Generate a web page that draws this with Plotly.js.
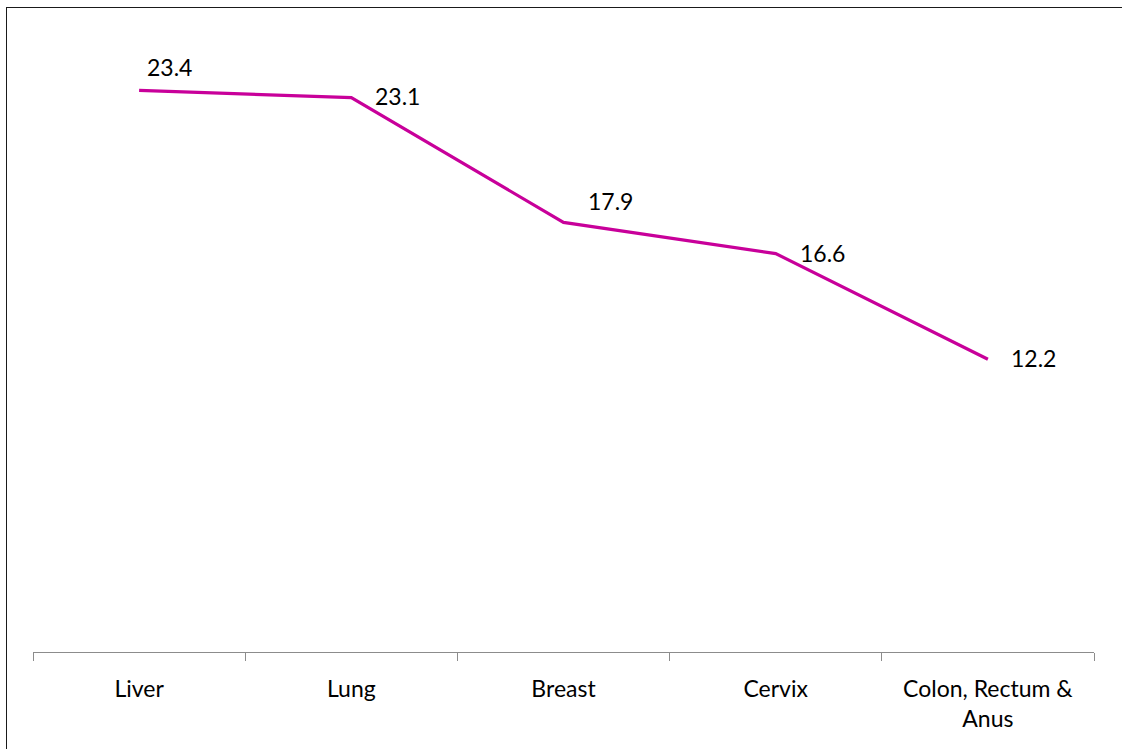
<!DOCTYPE html>
<html>
<head>
<meta charset="utf-8">
<script src="https://cdn.plot.ly/plotly-3.0.1.min.js"></script>
<style>
  html, body { margin: 0; padding: 0; background: #fff; overflow: hidden; }
  #chart { width: 1122px; height: 749px; }
  #frame { position: absolute; left: 6px; top: 7px; width: 1130px; height: 760px;
           border: 1.5px solid #1a1a1a; pointer-events: none; }
</style>
</head>
<body>
<div id="chart"></div>
<div id="frame"></div>
<script>
// Cancer sites and their values
const sites = ["Liver", "Lung", "Breast", "Cervix", "Colon, Rectum &<br>Anus"];
const values = [23.4, 23.1, 17.9, 16.6, 12.2];
const valueLabels = values.map(v => v.toFixed(1));

// Pixel offsets of each value label from its point
const labelDx = [7, 23, 23, 23, 22];
const labelDy = [23, 2, 21, 1, 1];

const FONT = "Lato, 'Open Sans', sans-serif";

const trace = {
  type: "scatter",
  mode: "lines",
  x: sites,
  y: values,
  line: { color: "#C8009A", width: 3.2 },
  hoverinfo: "skip",
  cliponaxis: false
};

const annotations = sites.map((s, i) => ({
  x: s,
  y: values[i],
  xref: "x",
  yref: "y",
  text: valueLabels[i],
  showarrow: false,
  xanchor: "left",
  yanchor: "middle",
  xshift: labelDx[i],
  yshift: labelDy[i],
  borderpad: 0,
  font: { family: FONT, size: 23, color: "#000" }
}));

const layout = {
  width: 1122,
  height: 749,
  margin: { l: 33, r: 28, t: 52, b: 97 },
  paper_bgcolor: "#fff",
  plot_bgcolor: "#fff",
  showlegend: false,
  font: { family: FONT, size: 23, color: "#000" },
  annotations: annotations,
  xaxis: {
    type: "category",
    range: [-0.5, 4.5],
    showline: true,
    linecolor: "#8c8c8c",
    linewidth: 1,
    ticks: "outside",
    tickson: "boundaries",
    ticklen: 8,
    tickcolor: "#8c8c8c",
    tickwidth: 1,
    ticklabelstandoff: 16,
    showgrid: false,
    zeroline: false,
    fixedrange: true,
    tickfont: { family: FONT, size: 23, color: "#000" }
  },
  yaxis: {
    range: [0, 25],
    visible: false,
    showgrid: false,
    zeroline: false,
    fixedrange: true
  }
};

Plotly.newPlot("chart", [trace], layout, { displayModeBar: false, staticPlot: true });
</script>
</body>
</html>
